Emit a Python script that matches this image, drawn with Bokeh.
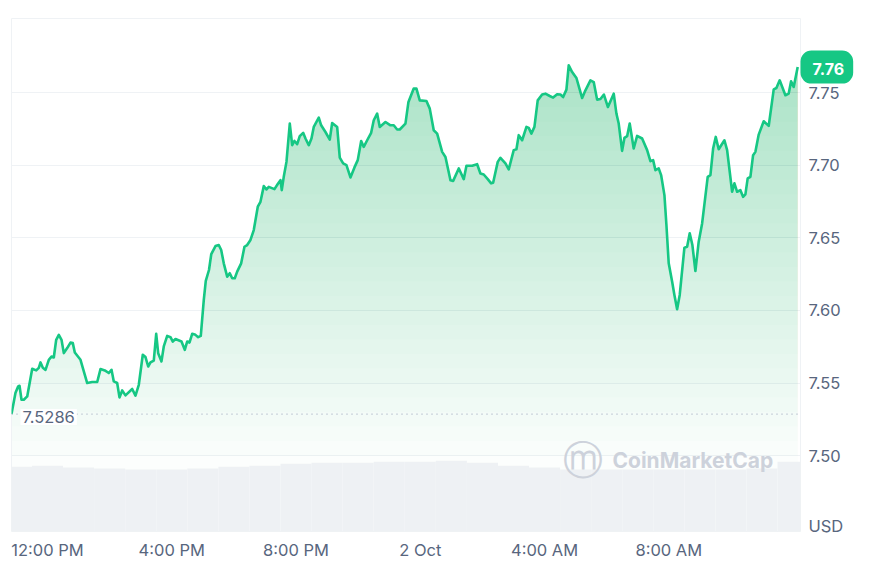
import math
import numpy as np
from bokeh.plotting import figure
from bokeh.models import Range1d, FixedTicker, PrintfTickFormatter, Span, Label
from bokeh.embed import file_html
from bokeh.resources import INLINE

# time in hours relative to 1 Oct 12:00 PM
hours = [-1.159, -1.030, -0.943, -0.901, -0.837, -0.763, -0.653, -0.492, -0.364, -0.280,
         -0.225, -0.151, -0.064, 0.042, 0.129, 0.203, 0.280, 0.364, 0.451, 0.525,
         0.634, 0.740, 0.814, 0.879, 1.062, 1.278, 1.439, 1.600, 1.706, 1.844,
         1.973, 2.060, 2.134, 2.243, 2.317, 2.404, 2.510, 2.726, 2.832, 2.939,
         3.067, 3.154, 3.241, 3.315, 3.421, 3.499, 3.563, 3.669, 3.743, 3.853,
         3.959, 4.033, 4.120, 4.313, 4.419, 4.496, 4.570, 4.657, 4.763, 4.850,
         4.934, 5.031, 5.095, 5.198, 5.272, 5.407, 5.513, 5.591, 5.674, 5.784,
         5.867, 5.945, 6.028, 6.106, 6.234, 6.340, 6.427, 6.534, 6.640, 6.769,
         6.855, 6.962, 7.049, 7.123, 7.306, 7.412, 7.499, 7.541, 7.605, 7.692,
         7.799, 7.876, 7.950, 8.037, 8.120, 8.230, 8.304, 8.410, 8.497, 8.571,
         8.732, 8.809, 8.947, 9.086, 9.163, 9.324, 9.408, 9.517, 9.623, 9.752,
         9.881, 9.987, 10.097, 10.180, 10.290, 10.418, 10.502, 10.611, 10.695, 10.879,
         11.040, 11.146, 11.255, 11.339, 11.522, 11.619, 11.789, 11.876, 11.983, 12.198,
         12.305, 12.433, 12.543, 12.704, 12.810, 12.971, 13.058, 13.238, 13.315, 13.399,
         13.486, 13.669, 13.830, 13.936, 14.042, 14.171, 14.281, 14.345, 14.493, 14.580,
         14.741, 14.847, 15.008, 15.095, 15.169, 15.278, 15.417, 15.491, 15.578, 15.674,
         15.780, 15.922, 16.028, 16.167, 16.276, 16.405, 16.511, 16.598, 16.704, 16.778,
         16.888, 17.026, 17.210, 17.316, 17.477, 17.583, 17.692, 17.799, 17.911, 18.040,
         18.227, 18.313, 18.387, 18.497, 18.571, 18.658, 18.741, 18.870, 18.980, 19.141,
         19.302, 19.408, 19.495, 19.569, 19.675, 19.752, 19.859, 19.923, 19.997, 20.106,
         20.180, 20.267, 20.351, 20.502, 20.589, 20.673, 20.759, 20.856, 20.962, 21.072,
         21.252, 21.339, 21.426, 21.510, 21.606, 21.790, 21.877, 22.038, 22.112, 22.199,
         22.304, 22.391, 22.465, 22.539, 22.626, 22.713, 22.787, 22.894, 23.055, 23.216,
         23.377, 23.463, 23.569, 23.753, 23.859, 23.936, 24.020, 24.149]

prices = [7.5286, 7.5433, 7.5477, 7.5481, 7.5385, 7.5385, 7.5408, 7.5598, 7.5587, 7.5605,
          7.5642, 7.5605, 7.5591, 7.5660, 7.5683, 7.5676, 7.5798, 7.5832, 7.5798, 7.5706,
          7.5741, 7.5779, 7.5775, 7.5710, 7.5660, 7.5500, 7.5507, 7.5507, 7.5596, 7.5587,
          7.5569, 7.5591, 7.5511, 7.5500, 7.5401, 7.5449, 7.5415, 7.5459, 7.5413, 7.5488,
          7.5695, 7.5679, 7.5614, 7.5642, 7.5655, 7.5839, 7.5706, 7.5649, 7.5752, 7.5825,
          7.5816, 7.5786, 7.5803, 7.5786, 7.5729, 7.5786, 7.5779, 7.5839, 7.5832, 7.5816,
          7.5825, 7.6073, 7.6204, 7.6279, 7.6389, 7.6444, 7.6451, 7.6417, 7.6325, 7.6233,
          7.6257, 7.6222, 7.6222, 7.6268, 7.6325, 7.6439, 7.6451, 7.6486, 7.6554, 7.6715,
          7.6749, 7.6857, 7.6834, 7.6852, 7.6836, 7.6871, 7.6898, 7.6829, 7.6921, 7.7024,
          7.7288, 7.7139, 7.7168, 7.7146, 7.7201, 7.7224, 7.7185, 7.7139, 7.7185, 7.7265,
          7.7329, 7.7276, 7.7230, 7.7178, 7.7292, 7.7265, 7.7054, 7.7013, 7.7001, 7.6917,
          7.6986, 7.7036, 7.7168, 7.7127, 7.7173, 7.7224, 7.7311, 7.7357, 7.7265, 7.7299,
          7.7276, 7.7276, 7.7247, 7.7247, 7.7288, 7.7437, 7.7529, 7.7529, 7.7448, 7.7444,
          7.7391, 7.7242, 7.7219, 7.7093, 7.7058, 7.6898, 7.6893, 7.6979, 7.6944, 7.6905,
          7.6997, 7.6997, 7.7008, 7.6944, 7.6937, 7.6905, 7.6876, 7.6880, 7.7024, 7.7052,
          7.7013, 7.6972, 7.7105, 7.7111, 7.7208, 7.7173, 7.7265, 7.7258, 7.7219, 7.7265,
          7.7448, 7.7488, 7.7494, 7.7478, 7.7467, 7.7490, 7.7488, 7.7471, 7.7522, 7.7689,
          7.7643, 7.7602, 7.7464, 7.7517, 7.7586, 7.7574, 7.7453, 7.7457, 7.7488, 7.7402,
          7.7494, 7.7357, 7.7288, 7.7100, 7.7189, 7.7201, 7.7288, 7.7116, 7.7203, 7.7185,
          7.7105, 7.7029, 7.7036, 7.6967, 7.6979, 7.6933, 7.6795, 7.6589, 7.6325, 7.6199,
          7.6107, 7.6009, 7.6107, 7.6433, 7.6439, 7.6532, 7.6451, 7.6272, 7.6474, 7.6600,
          7.6921, 7.6933, 7.7116, 7.7196, 7.7111, 7.7173, 7.7105, 7.6818, 7.6876, 7.6818,
          7.6829, 7.6783, 7.6800, 7.6910, 7.6921, 7.7070, 7.7093, 7.7212, 7.7304, 7.7272,
          7.7524, 7.7533, 7.7586, 7.7483, 7.7495, 7.7579, 7.7540, 7.7677]

vol_hours = [-1, 0, 1, 2, 3, 4, 5, 6, 7, 8, 9, 10, 11, 12,
             13, 14, 15, 16, 17, 18, 19, 20, 21, 22, 23, 24]
volumes = [6.5, 6.6, 6.4, 6.3, 6.2, 6.2, 6.3, 6.5, 6.6, 6.8, 6.9, 6.9, 7.0, 7.0,
           7.1, 6.9, 6.6, 6.4, 6.2, 6.2, 6.2, 6.2, 6.2, 6.2, 6.3, 7.0]

x_ticks = [0, 4, 8, 12, 16, 20]
x_tick_labels = ["12:00 PM", "4:00 PM", "8:00 PM", "2 Oct", "4:00 AM", "8:00 AM"]
y_ticks = [7.50, 7.55, 7.60, 7.65, 7.70, 7.75]
currency = "USD"

GREEN = "#16c784"
FILL = "#10c070"
TXT = "#58667e"
GRID = "#eff2f5"
FONT = "Inter"

Y_LO, Y_HI = 7.4477, 7.8012
p = figure(width=870, height=562, output_backend="svg", toolbar_location=None,
           x_range=Range1d(hours[0], hours[-1] + 0.09),
           y_range=Range1d(Y_LO, Y_HI),
           y_axis_location="right",
           min_border_left=11, min_border_right=70, min_border_top=18, min_border_bottom=30)
p.outline_line_color = GRID
p.background_fill_color = "white"
p.border_fill_color = "white"

hr = np.array(hours)
pr = np.array(prices)

# gradient-like area fill (stacked translucent layers)
for lvl in np.arange(7.49, 7.78, 0.01):
    p.varea(x=hr, y1=np.minimum(pr, lvl), y2=pr, fill_color=FILL, fill_alpha=0.0115)

# volume
p.extra_y_ranges = {"vol": Range1d(0, 51.4)}
p.vbar(x=vol_hours, top=volumes, width=1.0, y_range_name="vol",
       fill_color="#eef1f4", line_color=None)

# baseline (open price)
p.add_layout(Span(location=prices[0], dimension="width", line_color="#a6b0c3",
                  line_dash="1 4", line_width=1.3))

p.line(hr, pr, line_color=GREEN, line_width=2.6, line_join="round")

# axes
usd_pos = Y_LO + 0.0035
xa = p.xaxis[0]
xa.ticker = FixedTicker(ticks=x_ticks)
xa.major_label_overrides = {t: s for t, s in zip(x_ticks, x_tick_labels)}
ya = p.yaxis[0]
ya.ticker = FixedTicker(ticks=y_ticks + [usd_pos])
ya.formatter = PrintfTickFormatter(format="%.2f")
ya.major_label_overrides = {usd_pos: currency}
for ax in (xa, ya):
    ax.axis_line_color = None
    ax.major_tick_line_color = None
    ax.minor_tick_line_color = None
    ax.major_tick_out = 0
    ax.major_tick_in = 0
    ax.minor_tick_out = 0
    ax.minor_tick_in = 0
    ax.major_label_text_color = TXT
    ax.major_label_text_font = FONT
    ax.major_label_text_font_size = "16.5px"
xa.major_label_standoff = 8
ya.major_label_standoff = 8

p.xgrid.visible = False
p.ygrid.ticker = FixedTicker(ticks=y_ticks)
p.ygrid.grid_line_color = GRID
p.ygrid.grid_line_width = 1

# open price label
p.add_layout(Label(x=hours[0], y=prices[0], text=f"{prices[0]:.4f}", x_offset=9, y_offset=-3,
                   text_color=TXT, text_font=FONT, text_font_size="16.5px",
                   text_baseline="middle", text_align="left",
                   background_fill_color="white", padding=2))

# current price tag (side-panel annotation so the frame does not clip it); price truncated to cents
tag_text = f"{math.floor(prices[-1] * 100) / 100:.2f}"
p.add_layout(Label(x=hours[-1] + 0.09, y=prices[-1], text=tag_text, x_offset=9,
                   text_color="white", text_font=FONT, text_font_size="16px",
                   text_font_style="bold", text_baseline="middle", text_align="left",
                   background_fill_color=GREEN, border_line_color=GREEN,
                   border_line_width=18, border_line_join="round", border_radius=2,
                   padding=(3, 0, 3, 0)), "above")

# watermark
p.add_layout(Label(x=571, y=72, x_units="screen", y_units="screen", text="\u24dc",
                   text_color="#cdd2db", text_font="DejaVu Sans", text_font_size="40px",
                   text_baseline="middle", text_align="center"))
p.add_layout(Label(x=601, y=71, x_units="screen", y_units="screen", text="CoinMarketCap",
                   text_color="#cdd2db", text_font=FONT, text_font_size="21px",
                   text_font_style="bold", text_baseline="middle", text_align="left"))

open("out.html", "w").write(file_html(p, INLINE))
